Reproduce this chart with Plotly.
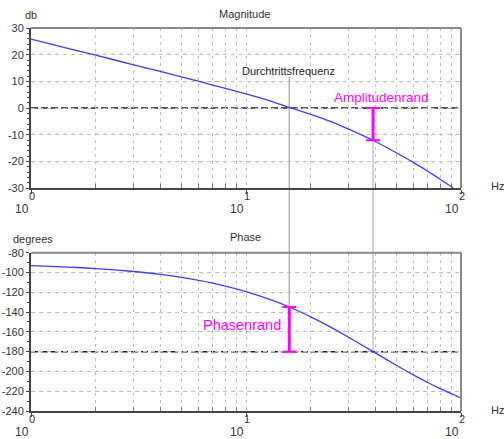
import math
import plotly.graph_objects as go

# ---------------- data ----------------
freq_mag = [1, 1.5, 2, 3, 4, 5, 7, 10, 13, 15.9, 20, 25, 30, 39, 50, 60, 70, 80, 92]
mag_db = [25.8, 22.3, 19.8, 16.2, 13.7, 11.7, 8.6, 5.3, 2.6, 0.2, -2.4, -5.2, -7.9,
          -12.1, -16.8, -20.4, -23.7, -26.7, -30.0]

freq_ph = [1, 1.5, 2, 3, 4, 5, 7, 10, 13, 15.9, 20, 25, 30, 39, 50, 60, 70, 80, 100]
phase_deg = [-93.0, -94.5, -96.0, -99.0, -102.0, -104.9, -110.7, -119.3, -127.5, -134.9,
             -144.9, -155.8, -165.4, -180.0, -193.8, -203.5, -211.2, -217.4, -226.8]

mag_ticks = [30, 20, 10, 0, -10, -20, -30]
phase_ticks = [-80, -100, -120, -140, -160, -180, -200, -220, -240]
x_major = [1, 10, 100]
x_exponents = ["0", "1", "2"]
x_minor = [2, 3, 4, 5, 6, 7, 8, 9, 20, 30, 40, 50, 60, 70, 80, 90]

crossover_freq = 15.9        # Durchtrittsfrequenz
phase_cross_freq = 39        # -180 deg frequency
gain_at_pc = -12.1           # magnitude at phase crossover
phase_at_cf = -134.9         # phase at crossover frequency

# ---------------- layout helpers ----------------
W, H = 504, 439
# target plot area in window pixels: x 31..461, y 28..411
ML, MT = 31, 28
MR = W - 461
MB = H - 411
plot_h = H - MT - MB
plot_w = W - ML - MR


def py(p):
    """window pixel row -> paper y"""
    return (H - MB - p) / plot_h


def px(p):
    """window pixel column -> paper x"""
    return (p - ML) / plot_w


FONT = "Liberation Sans, Arial, sans-serif"
BLUE = "#3c3cff"
MAG = "#ff00ff"
GRID = "#bdbdbd"

fig = go.Figure()

fig.add_trace(go.Scatter(x=freq_mag, y=mag_db, mode="lines", xaxis="x", yaxis="y",
                         line=dict(color=BLUE, width=1.3, shape="spline", smoothing=0.6),
                         showlegend=False))
fig.add_trace(go.Scatter(x=freq_ph, y=phase_deg, mode="lines", xaxis="x2", yaxis="y2",
                         line=dict(color=BLUE, width=1.3, shape="spline", smoothing=0.6),
                         showlegend=False))

# margins (magenta bars with caps)
fig.add_trace(go.Scatter(x=[phase_cross_freq, phase_cross_freq], y=[0, gain_at_pc],
                         mode="lines+markers", xaxis="x", yaxis="y",
                         line=dict(color=MAG, width=3),
                         marker=dict(symbol="line-ew-open", size=10,
                                     line=dict(color=MAG, width=2)),
                         showlegend=False))
fig.add_trace(go.Scatter(x=[crossover_freq, crossover_freq], y=[phase_at_cf, -180],
                         mode="lines+markers", xaxis="x2", yaxis="y2",
                         line=dict(color=MAG, width=3),
                         marker=dict(symbol="line-ew-open", size=10,
                                     line=dict(color=MAG, width=2)),
                         showlegend=False))


def xax(anchor):
    return dict(type="log", range=[0, 2], domain=[0, 1], anchor=anchor,
                automargin=False,
                tickvals=x_major, showticklabels=False,
                ticks="outside", ticklen=4, tickcolor="#444", tickwidth=1,
                showgrid=True, gridcolor=GRID, griddash="3px,4px", gridwidth=1,
                minor=dict(tickvals=x_minor, ticks="inside", ticklen=4,
                           tickcolor="#777", showgrid=True, gridcolor=GRID,
                           griddash="3px,4px", gridwidth=1),
                showline=True, linecolor="#444", linewidth=2, zeroline=False,
                mirror=False)


def yax(rng, ticks, dom, anchor, minor_dt):
    return dict(range=rng, domain=dom, anchor=anchor, tickvals=ticks,
                automargin=False,
                ticktext=[str(t) for t in ticks],
                tickfont=dict(family=FONT, size=11, color="#333"),
                ticks="outside", ticklen=3, tickcolor="#444",
                showgrid=True, gridcolor=GRID, griddash="4px,4px", gridwidth=1,
                minor=dict(dtick=minor_dt, ticks="outside", ticklen=2,
                           tickcolor="#444", showgrid=False),
                showline=True, linecolor="#444", linewidth=2, zeroline=False,
                mirror=False)


top_dom = [py(188), 1]
bot_dom = [0, py(252.7)]

fig.update_layout(
    width=W, height=H,
    margin=dict(l=ML, r=MR, t=MT, b=MB, autoexpand=False),
    paper_bgcolor="white", plot_bgcolor="white",
    showlegend=False,
    xaxis=xax("y"),
    yaxis=yax([-30, 30], mag_ticks, top_dom, "x", 2),
    xaxis2=xax("y2"),
    yaxis2=yax([-240, -80], phase_ticks, bot_dom, "x2", 10),
)

shapes = []
# reference dashed lines
shapes.append(dict(type="line", xref="x domain", yref="y", x0=0, x1=1, y0=0, y1=0,
                   line=dict(color="#222", width=1.5, dash="7px,3px"), layer="below"))
shapes.append(dict(type="line", xref="x2 domain", yref="y2", x0=0, x1=1, y0=-180, y1=-180,
                   line=dict(color="#222", width=1.5, dash="7px,3px"), layer="below"))
# top / right frame (gray)
for xr, yr in (("x domain", "y domain"), ("x2 domain", "y2 domain")):
    shapes.append(dict(type="line", xref=xr, yref=yr, x0=0, x1=1, y0=1, y1=1,
                       line=dict(color="#888", width=2)))
    shapes.append(dict(type="line", xref=xr, yref=yr, x0=1, x1=1, y0=0, y1=1,
                       line=dict(color="#888", width=2)))

# vertical gray connector lines
y_phase_180 = py(252.7 + (-80 - (-180)) * (411 - 252.7) / 160)
y_mag_gm = py(28 + (30 - gain_at_pc) * 160 / 60)
shapes.append(dict(type="line", xref="x", yref="paper", x0=crossover_freq, x1=crossover_freq,
                   y0=py(77), y1=y_phase_180, line=dict(color="#b4b4b4", width=1.5),
                   layer="below"))
shapes.append(dict(type="line", xref="x", yref="paper", x0=phase_cross_freq, x1=phase_cross_freq,
                   y0=y_mag_gm, y1=y_phase_180, line=dict(color="#c4c4c4", width=1.5),
                   layer="below"))
fig.update_layout(shapes=shapes)

ann = []
C = dict(showarrow=False, xanchor="center", yanchor="middle")
# x tick labels in the "10 with exponent" style
for xr, base_px in (("x", 196), ("x2", 419)):
    for v, e in zip(x_major, x_exponents):
        lx = math.log10(v)
        ann.append(dict(xref=xr, yref="paper", x=lx, y=py(base_px), text=e,
                        xshift=1, font=dict(family=FONT, size=11, color="#333"), **C))
        ann.append(dict(xref=xr, yref="paper", x=lx, y=py(base_px + 13), text="10",
                        xshift=-9, font=dict(family=FONT, size=12, color="#333"), **C))

small = dict(family=FONT, size=11, color="#333")
ann += [
    dict(xref="paper", yref="paper", x=px(244), y=py(14), text="Magnitude",
         font=dict(family=FONT, size=11, color="#333"), **C),
    dict(xref="paper", yref="paper", x=px(245), y=py(237), text="Phase",
         font=dict(family=FONT, size=11, color="#333"), **C),
    dict(xref="paper", yref="paper", x=px(31), y=py(15), text="db", font=small, **C),
    dict(xref="paper", yref="paper", x=px(33), y=py(239), text="degrees", font=small, **C),
    dict(xref="paper", yref="paper", x=px(497), y=py(186), text="Hz", font=small, **C),
    dict(xref="paper", yref="paper", x=px(497), y=py(410), text="Hz", font=small, **C),
    dict(xref="x", yref="paper", x=math.log10(crossover_freq), y=py(71),
         text="Durchtrittsfrequenz", xshift=-1,
         font=dict(family=FONT, size=11, color="#222"), **C),
    dict(xref="paper", yref="paper", x=px(381), y=py(97),
         text="Amplitudenrand", font=dict(family=FONT, size=13.5, color=MAG), **C),
    dict(xref="paper", yref="paper", x=px(242), y=py(325),
         text="Phasenrand", font=dict(family=FONT, size=14.5, color=MAG), **C),
]
fig.update_layout(annotations=ann)

fig.write_html("out.html",
               config={"displayModeBar": False},
               post_script="document.body.style.margin='0';"
                           "document.documentElement.style.margin='0';"
                           "window.dispatchEvent(new Event('resize'));")
